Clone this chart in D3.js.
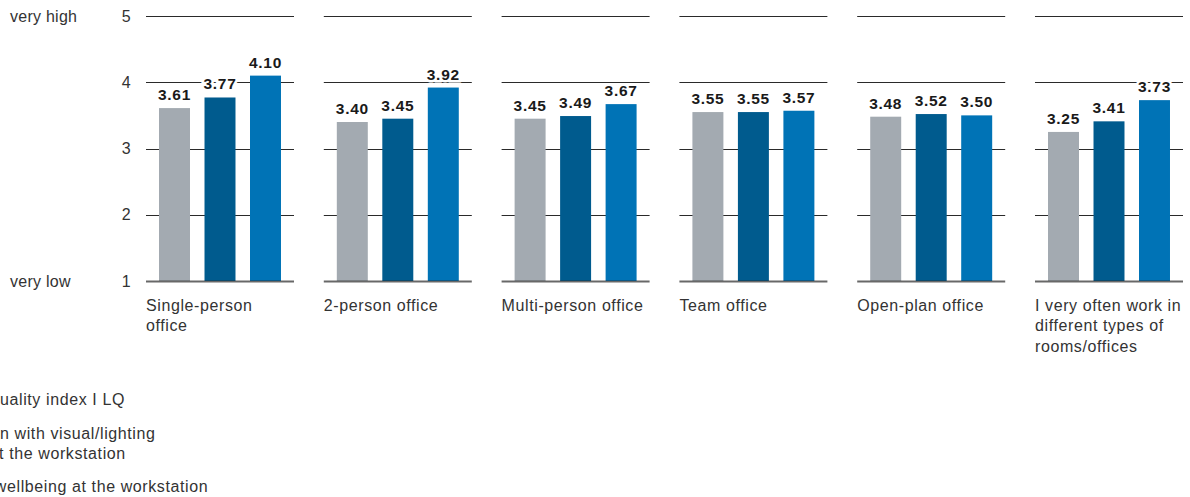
<!DOCTYPE html>
<html><head><meta charset="utf-8">
<script src="https://cdn.jsdelivr.net/npm/d3@7"></script>
<style>
body{margin:0;background:#fff;}
svg{display:block;font-family:"Liberation Sans",Arial,sans-serif;}
</style></head>
<body><svg id="c" width="1190" height="497"></svg>
<script>
const categories = [
  ["Single-person","office"],
  ["2-person office"],
  ["Multi-person office"],
  ["Team office"],
  ["Open-plan office"],
  ["I very often work in","different types of","rooms/offices"]
];
const seriesNames = [
  ["Lighting quality index I LQ"],
  ["Satisfaction with visual/lighting","situation at the workstation"],
  ["General wellbeing at the workstation"]
];
// hidden (cut-off) prefix of each legend entry's first line
const legendHiddenPrefix = ["Lighting q", "Satisfactio", "General w"];
const lightingQuality = [3.61, 3.40, 3.45, 3.55, 3.48, 3.25];
const satisfaction    = [3.77, 3.45, 3.49, 3.55, 3.52, 3.41];
const wellbeing       = [4.10, 3.92, 3.67, 3.57, 3.50, 3.73];
const yTicks = [1,2,3,4,5];
const yEndLabels = {5:"very high", 1:"very low"};
const colors = ["#a3aab1", "#005b8e", "#0073b6"];

const series = [lightingQuality, satisfaction, wellbeing];
const svg = d3.select("#c");
const catKeys = categories.map((c,i)=>i);
const FS = 16, LS = "0.6px";

const x0 = d3.scaleBand().domain(catKeys).range([146,1183]).paddingInner(0.1676).paddingOuter(0);
const x1 = d3.scaleBand().domain([0,1,2]).range([0,x0.bandwidth()]).paddingInner(0.319).paddingOuter(0.286);
const y = d3.scaleLinear().domain([1,5]).range([281,16]);

// y axis labels
const ya = svg.append("g").attr("font-size",FS).attr("fill","#333").attr("letter-spacing","0.25px");
ya.selectAll("text.num").data(yTicks).join("text").attr("class","num")
  .attr("x",131).attr("y",d=>y(d)+5.5).attr("text-anchor","end").text(d=>d);
ya.selectAll("text.end").data(yTicks.filter(d=>yEndLabels[d])).join("text").attr("class","end")
  .attr("x",10).attr("y",d=>y(d)+5.5).text(d=>yEndLabels[d]);

const panels = svg.selectAll("g.panel").data(catKeys).join("g").attr("class","panel")
  .attr("transform",d=>`translate(${x0(d)},0)`);

// grid lines (behind bars)
panels.each(function(){
  d3.select(this).selectAll("line.grid").data(yTicks.filter(t=>t>1)).join("line").attr("class","grid")
    .attr("x1",0).attr("x2",x0.bandwidth()).attr("y1",d=>Math.round(y(d))+0.5).attr("y2",d=>Math.round(y(d))+0.5)
    .attr("stroke","#2a2a2a").attr("stroke-width",1);
});

// bars
panels.selectAll("rect").data(ci=>series.map((s,si)=>({si,v:s[ci]}))).join("rect")
  .attr("x",d=>x1(d.si)).attr("width",x1.bandwidth())
  .attr("y",d=>y(d.v)).attr("height",d=>y(1)-y(d.v)).attr("fill",d=>colors[d.si]);

// baseline
panels.append("line").attr("x1",0).attr("x2",x0.bandwidth()).attr("y1",y(1)+0.5).attr("y2",y(1)+0.5)
  .attr("stroke","rgba(40,40,40,0.7)").attr("stroke-width",2);

// value labels
panels.selectAll("text.val").data(ci=>series.map((s,si)=>({si,v:s[ci]}))).join("text").attr("class","val")
  .attr("x",d=>x1(d.si)+x1.bandwidth()/2).attr("y",d=>y(d.v)-8)
  .attr("text-anchor","middle").attr("font-size",15.5).attr("font-weight","bold").attr("letter-spacing","0.7px")
  .attr("fill","#1a1a1a").attr("stroke","#fff").attr("stroke-width",5).attr("paint-order","stroke")
  .text(d=>d.v.toFixed(2));

// category labels
panels.append("text").attr("font-size",FS).attr("fill","#333").attr("letter-spacing",LS)
  .selectAll("tspan").data(ci=>categories[ci]).join("tspan")
  .attr("x",0).attr("y",(d,i)=>310.5+i*20.5).text(d=>d);

// legend (partly cut off on the left, as in the reference)
const legY = [404.5, 438.5, 491.5];
const leg = svg.append("g").attr("font-size",FS).attr("fill","#333").attr("letter-spacing",LS);
leg.selectAll("text").data(seriesNames).join("text")
  .each(function(lines,i){
    const t = d3.select(this);
    const probe = svg.append("text").attr("font-size",FS).attr("letter-spacing",LS).text(legendHiddenPrefix[i]);
    const w = probe.node().getComputedTextLength();
    probe.remove();
    const off = i===2 ? 7 : 0;
    t.selectAll("tspan").data(lines).join("tspan")
      .attr("x",-w+off).attr("y",(d,j)=>legY[i]+j*20.5).text(d=>d);
  });
</script></body></html>
